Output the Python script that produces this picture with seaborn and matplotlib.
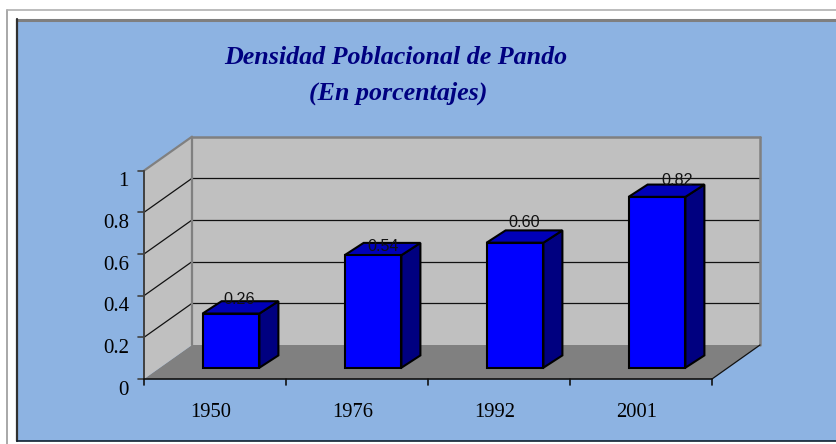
import numpy as np
import pandas as pd
import matplotlib
matplotlib.use('Agg')
import matplotlib.pyplot as plt
import seaborn as sns
from matplotlib.transforms import ScaledTranslation
from matplotlib.patches import Rectangle, Polygon
from matplotlib.lines import Line2D

# ---- data ----
years = ['1950', '1976', '1992', '2001']
densidad = [0.26, 0.54, 0.60, 0.82]
value_labels = ['0.26', '0.54', '0.60', '0.82']
y_ticks = [0, 0.2, 0.4, 0.6, 0.8, 1.0]
y_tick_labels = ['0', '0.2', '0.4', '0.6', '0.8', '1']
title_lines = ['Densidad Poblacional de Pando', '(En porcentajes)']

sns.set_theme(style='white')
plt.rcParams['font.family'] = ['Liberation Serif', 'DejaVu Serif']

W, H, DPI = 837, 444, 100
fig = plt.figure(figsize=(W / DPI, H / DPI), dpi=DPI)
fig.patch.set_facecolor('white')

def fx(px):
    return px / W

def fy(py):
    return 1 - py / H

# outer frame and blue chart area
fig.add_artist(Line2D([fx(7.5), fx(7.5)], [fy(10.5), fy(460)], color='#9a9a9a', lw=1.2))
fig.add_artist(Line2D([fx(7.5), fx(850)], [fy(10.5), fy(10.5)], color='#b0b0b0', lw=1.2))
fig.add_artist(Rectangle((fx(17.5), fy(441)), fx(830), 421.5 / H, transform=fig.transFigure,
                         facecolor='#8DB3E2', edgecolor='none'))
fig.add_artist(Line2D([fx(17.5), fx(850)], [fy(20.5), fy(20.5)], color='#7f7f7f', lw=2.2))
fig.add_artist(Line2D([fx(17.5), fx(17.5)], [fy(19.5), fy(441)], color='#303030', lw=1.6))
fig.add_artist(Line2D([fx(17.5), fx(850)], [fy(441), fy(441)], color='#102030', lw=1.2))

# axes = front plane of the 3D box
ax = fig.add_axes([fx(144), 65 / H, 568 / W, 208.33 / H])
ax.set_zorder(10)
df = pd.DataFrame({'year': years, 'densidad': densidad})
sns.barplot(data=df, x='year', y='densidad', ax=ax, width=0.4, color='#0000FF',
            saturation=1, edgecolor='black', linewidth=1.5, zorder=5)
ax.set_xlim(-0.5, 3.5)
ax.set_ylim(0, 1)
ax.axis('off')
ax.patch.set_alpha(0)

BACK = (48, 34)      # pixel offset of the back plane
BF = (16, 11.3)      # bar front face offset
BD = (19, 12.3)      # bar depth
BB = (BF[0] + BD[0], BF[1] + BD[1])
# small per-label placement nudges (pixels) as placed in the original chart
label_nudge = [(-1, 8), (1, 2.5), (0, 14), (11, 10)]

def P(x, v, off=(0, 0)):
    d = ax.transData.transform((x, v))
    return (d[0] + off[0], d[1] + off[1])

def poly(pts, **kw):
    p = Polygon(pts, closed=True, transform=None, **kw)
    p.set_clip_on(False)
    fig.add_artist(p)

def line(p1, p2, **kw):
    l = Line2D([p1[0], p2[0]], [p1[1], p2[1]], transform=None, **kw)
    l.set_clip_on(False)
    fig.add_artist(l)

x0, x1 = -0.5, 3.5
# floor
poly([P(x0, 0), P(x1, 0), P(x1, 0, BACK), P(x0, 0, BACK)], facecolor='#808080', edgecolor='none', zorder=1)
# back wall
poly([P(x0, 0, BACK), P(x1, 0, BACK), P(x1, 1, BACK), P(x0, 1, BACK)], facecolor='#C0C0C0', edgecolor='none', zorder=1)
# left wall
poly([P(x0, 0), P(x0, 0, BACK), P(x0, 1, BACK), P(x0, 1)], facecolor='#C0C0C0', edgecolor='none', zorder=1)

# gridlines
for v in y_ticks[1:-1]:
    line(P(x0, v, BACK), P(x1, v, BACK), color='#111111', lw=0.9, zorder=2)
    line(P(x0, v), P(x0, v, BACK), color='#111111', lw=0.9, zorder=2)
# wall borders
line(P(x0, 1), P(x0, 1, BACK), color='#808080', lw=1.6, zorder=2)
line(P(x0, 1, BACK), P(x1, 1, BACK), color='#808080', lw=1.8, zorder=2)
line(P(x1, 1, BACK), P(x1, 0, BACK), color='#808080', lw=1.8, zorder=2)
line(P(x0, 0, BACK), P(x0, 1, BACK), color='#808080', lw=1.6, zorder=2)
# floor edges
line(P(x1, 0), P(x1, 0, BACK), color='#111111', lw=0.9, zorder=2)

# axes lines and ticks
line(P(x0, 0), P(x0, 1), color='#404040', lw=1.4, zorder=3)
for v, lab in zip(y_ticks, y_tick_labels):
    a = P(x0, v)
    line(a, (a[0] - 6, a[1]), color='#404040', lw=1.2, zorder=3)
    ax.annotate(lab, xy=(x0, v), xytext=(-15, -11), textcoords='offset pixels',
                ha='right', va='center', fontsize=15, color='black',
                annotation_clip=False)
line(P(x0, 0), P(x1, 0), color='#111111', lw=1.2, zorder=3)
for b in np.arange(len(years) + 1) - 0.5:
    a = P(b, 0)
    line(a, (a[0], a[1] - 6), color='#111111', lw=1.2, zorder=3)
for i, yr in enumerate(years):
    ax.annotate(yr, xy=(i, 0), xytext=(-4, -33), textcoords='offset pixels',
                ha='center', va='center', fontsize=14.8, color='black',
                annotation_clip=False)

# 3D bars
front_tr = ax.transData + ScaledTranslation(BF[0] / DPI, BF[1] / DPI, fig.dpi_scale_trans)
for patch, lab, nd in zip(ax.patches, value_labels, label_nudge):
    patch.set_transform(front_tr)
    patch.set_clip_on(False)
    bx0 = patch.get_x()
    bx1 = bx0 + patch.get_width()
    h = patch.get_height()
    # side face
    poly([P(bx1, 0, BF), P(bx1, 0, BB), P(bx1, h, BB), P(bx1, h, BF)],
         facecolor='#000080', edgecolor='black', lw=1.5, joinstyle='miter', zorder=4)
    # top face
    poly([P(bx0, h, BF), P(bx1, h, BF), P(bx1, h, BB), P(bx0, h, BB)],
         facecolor='#0000B8', edgecolor='black', lw=1.5, joinstyle='miter', zorder=4)
    cx = bx0 + patch.get_width() / 2
    ax.annotate(lab, xy=(cx, h),
                xytext=(BF[0] + BD[0] / 2 + nd[0], BF[1] + BD[1] / 2 + nd[1]),
                textcoords='offset pixels', ha='center', va='center',
                fontsize=11.6, family=['Liberation Sans', 'DejaVu Sans'], color='#111111',
                annotation_clip=False, zorder=6)

# title
fig.text(fx(396), fy(57.5), title_lines[0], ha='center', va='center', fontsize=18.7,
         fontweight='bold', fontstyle='italic', color='#000080')
fig.text(fx(398), fy(93.5), title_lines[1], ha='center', va='center', fontsize=18.7,
         fontweight='bold', fontstyle='italic', color='#000080')

fig.savefig('out.png', dpi=DPI)
